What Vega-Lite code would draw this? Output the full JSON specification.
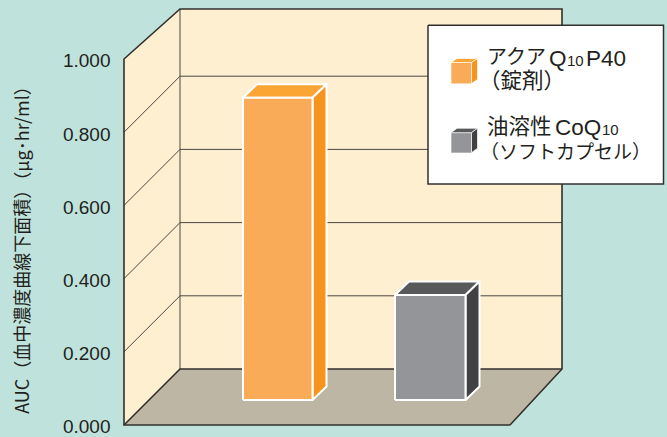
{"$schema":"https://vega.github.io/schema/vega-lite/v6.json","width":667,"height":437,"padding":0,"autosize":"none","background":"#BFE3DC","view":{"stroke":null},
"encoding":{"x":{"field":"x","type":"quantitative","scale":{"domain":[0,667]},"axis":null},"y":{"field":"auc","type":"quantitative","scale":{"domain":[-0.0328,1.1612]},"axis":{"values":[0,0.2,0.4,0.6,0.8,1.0],"format":".3f","grid":false,"domain":false,"ticks":false,"offset":-110,"labelPadding":0,"labelOffset":2,"labelFont":"Liberation Sans","labelFontSize":19,"labelColor":"#231F20","title":"AUC（血中濃度曲線下面積）（μg･hr/ml）","titleFont":"Noto Sans CJK JP","titleFontSize":18,"titleFontWeight":"normal","titleColor":"#231F20","titleX":-78,"titleY":245}}},
"layer":[
{"mark":{"type":"line","strokeWidth":0},"encoding":{"order":{"field":"i"},"fill":{"field":"face","type":"nominal","legend":null,"scale":{"domain":["leftwall","backwall","floor","a-front","a-top","a-side","b-front","b-top","b-side"],"range":["#FEEFD0","#FEEFD0","#BDB6A4","#FAAB57","#FBA634","#F7941E","#939598","#58595B","#414042"]}}},
"data":{"values":[
{"face":"leftwall","i":0,"x":124,"auc":0},{"face":"leftwall","i":1,"x":124,"auc":1},{"face":"leftwall","i":2,"x":180,"auc":1.1366},{"face":"leftwall","i":3,"x":180,"auc":0.153},
{"face":"backwall","i":0,"x":180,"auc":0.153},{"face":"backwall","i":1,"x":180,"auc":1.1366},{"face":"backwall","i":2,"x":562,"auc":1.1366},{"face":"backwall","i":3,"x":562,"auc":0.153},
{"face":"floor","i":0,"x":124,"auc":0},{"face":"floor","i":1,"x":180,"auc":0.153},{"face":"floor","i":2,"x":562,"auc":0.153},{"face":"floor","i":3,"x":510,"auc":0}]}},
{"mark":{"type":"line","stroke":"#4A4642","strokeWidth":1},"encoding":{"order":{"field":"i"},"detail":{"field":"g"}},
"data":{"values":[
{"g":"0.2","i":0,"x":124,"auc":0.2},{"g":"0.2","i":1,"x":180,"auc":0.353},{"g":"0.2","i":2,"x":562,"auc":0.353},
{"g":"0.4","i":0,"x":124,"auc":0.4},{"g":"0.4","i":1,"x":180,"auc":0.553},{"g":"0.4","i":2,"x":562,"auc":0.553},
{"g":"0.6","i":0,"x":124,"auc":0.6},{"g":"0.6","i":1,"x":180,"auc":0.753},{"g":"0.6","i":2,"x":562,"auc":0.753},
{"g":"0.8","i":0,"x":124,"auc":0.8},{"g":"0.8","i":1,"x":180,"auc":0.953},{"g":"0.8","i":2,"x":562,"auc":0.953},
{"g":"back","i":0,"x":180,"auc":0.153},{"g":"back","i":1,"x":180,"auc":1.1366}]}},
{"mark":{"type":"line","stroke":"#332F2C","strokeWidth":1.6},"encoding":{"order":{"field":"i"},"detail":{"field":"g"}},
"data":{"values":[
{"g":"outer","i":0,"x":510,"auc":0},{"g":"outer","i":1,"x":124,"auc":0},{"g":"outer","i":2,"x":124,"auc":1},{"g":"outer","i":3,"x":180,"auc":1.1366},{"g":"outer","i":4,"x":562,"auc":1.1366},{"g":"outer","i":5,"x":562,"auc":0.153},{"g":"outer","i":6,"x":510,"auc":0},
{"g":"floorback","i":0,"x":124,"auc":0},{"g":"floorback","i":1,"x":180,"auc":0.153},{"g":"floorback","i":2,"x":562,"auc":0.153}]}},
{"mark":{"type":"line","strokeWidth":2,"strokeJoin":"round"},"encoding":{"order":{"field":"i"},"stroke":{"value":"#FFFFFF"},"fill":{"field":"face","type":"nominal","legend":null,"scale":{"domain":["leftwall","backwall","floor","a-front","a-top","a-side","b-front","b-top","b-side"],"range":["#FEEFD0","#FEEFD0","#BDB6A4","#FAAB57","#FBA634","#F7941E","#939598","#58595B","#414042"]}}},
"data":{"values":[
{"face":"a-top","i":0,"x":243,"auc":0.8943},{"face":"a-top","i":1,"x":257,"auc":0.9312},{"face":"a-top","i":2,"x":326.5,"auc":0.9312},{"face":"a-top","i":3,"x":312.5,"auc":0.8943},{"face":"a-top","i":4,"x":243,"auc":0.8943},
{"face":"a-side","i":0,"x":312.5,"auc":0.8943},{"face":"a-side","i":1,"x":326.5,"auc":0.9312},{"face":"a-side","i":2,"x":326.5,"auc":0.1052},{"face":"a-side","i":3,"x":312.5,"auc":0.0683},{"face":"a-side","i":4,"x":312.5,"auc":0.8943},
{"face":"a-front","i":0,"x":243,"auc":0.0683},{"face":"a-front","i":1,"x":243,"auc":0.8943},{"face":"a-front","i":2,"x":312.5,"auc":0.8943},{"face":"a-front","i":3,"x":312.5,"auc":0.0683},{"face":"a-front","i":4,"x":243,"auc":0.0683},
{"face":"b-top","i":0,"x":395,"auc":0.3552},{"face":"b-top","i":1,"x":409,"auc":0.3921},{"face":"b-top","i":2,"x":479.5,"auc":0.3921},{"face":"b-top","i":3,"x":465.5,"auc":0.3552},{"face":"b-top","i":4,"x":395,"auc":0.3552},
{"face":"b-side","i":0,"x":465.5,"auc":0.3552},{"face":"b-side","i":1,"x":479.5,"auc":0.3921},{"face":"b-side","i":2,"x":479.5,"auc":0.1052},{"face":"b-side","i":3,"x":465.5,"auc":0.0683},{"face":"b-side","i":4,"x":465.5,"auc":0.3552},
{"face":"b-front","i":0,"x":395,"auc":0.0683},{"face":"b-front","i":1,"x":395,"auc":0.3552},{"face":"b-front","i":2,"x":465.5,"auc":0.3552},{"face":"b-front","i":3,"x":465.5,"auc":0.0683},{"face":"b-front","i":4,"x":395,"auc":0.0683}]}},
{"mark":{"type":"line","stroke":"#332F2C","strokeWidth":1.5,"fill":"#FFFFFF"},"encoding":{"order":{"field":"i"}},
"data":{"values":[{"i":0,"x":428,"auc":1.0921},{"i":1,"x":663.5,"auc":1.0921},{"i":2,"x":663.5,"auc":0.6585},{"i":3,"x":428,"auc":0.6585},{"i":4,"x":428,"auc":1.0921}]}},
{"mark":{"type":"line","strokeWidth":0.7,"strokeJoin":"round"},"encoding":{"order":{"field":"i"},"stroke":{"value":"#FFFFFF"},"fill":{"field":"face","type":"nominal","legend":null,"scale":{"domain":["leftwall","backwall","floor","a-front","a-top","a-side","b-front","b-top","b-side"],"range":["#FEEFD0","#FEEFD0","#BDB6A4","#FAAB57","#FBA634","#F7941E","#939598","#58595B","#414042"]}}},
"data":{"values":[
{"face":"a-top","i":0,"x":451,"auc":0.9904},{"face":"a-top","i":1,"x":457,"auc":1.0013},{"face":"a-top","i":2,"x":477.5,"auc":1.0013},{"face":"a-top","i":3,"x":471.5,"auc":0.9904},
{"face":"a-side","i":0,"x":471.5,"auc":0.9904},{"face":"a-side","i":1,"x":477.5,"auc":1.0013},{"face":"a-side","i":2,"x":477.5,"auc":0.944},{"face":"a-side","i":3,"x":471.5,"auc":0.9331},
{"face":"a-front","i":0,"x":451,"auc":0.9331},{"face":"a-front","i":1,"x":451,"auc":0.9904},{"face":"a-front","i":2,"x":471.5,"auc":0.9904},{"face":"a-front","i":3,"x":471.5,"auc":0.9331},
{"face":"b-top","i":0,"x":451,"auc":0.7986},{"face":"b-top","i":1,"x":457,"auc":0.8108},{"face":"b-top","i":2,"x":477.5,"auc":0.8108},{"face":"b-top","i":3,"x":471.5,"auc":0.7986},
{"face":"b-side","i":0,"x":471.5,"auc":0.7986},{"face":"b-side","i":1,"x":477.5,"auc":0.8108},{"face":"b-side","i":2,"x":477.5,"auc":0.7562},{"face":"b-side","i":3,"x":471.5,"auc":0.744},
{"face":"b-front","i":0,"x":451,"auc":0.744},{"face":"b-front","i":1,"x":451,"auc":0.7986},{"face":"b-front","i":2,"x":471.5,"auc":0.7986},{"face":"b-front","i":3,"x":471.5,"auc":0.744}]}},
{"mark":{"type":"text","align":"left","baseline":"middle","fontSize":20,"font":"Noto Sans CJK JP","color":"#231F20"},"encoding":{"text":{"field":"t"}},
"data":{"values":[{"t":"アクア","x":487,"auc":1.0027}]}},
{"mark":{"type":"text","align":"left","baseline":"middle","fontSize":21.5,"font":"Noto Sans CJK JP","color":"#231F20"},"encoding":{"text":{"field":"t"}},
"data":{"values":[{"t":"（錠剤）","x":479,"auc":0.9372},{"t":"油溶性","x":487,"auc":0.8115}]}},
{"mark":{"type":"text","align":"left","baseline":"middle","fontSize":19,"font":"Noto Sans CJK JP","color":"#231F20"},"encoding":{"text":{"field":"t"}},
"data":{"values":[{"t":"（ソフトカプセル）","x":480,"auc":0.7432}]}},
{"mark":{"type":"text","align":"left","baseline":"alphabetic","fontSize":22.5,"font":"Liberation Sans","color":"#231F20"},"encoding":{"text":{"field":"t"}},
"data":{"values":[{"t":"Q","x":549,"auc":0.9817},{"t":"P40","x":586,"auc":0.9817},{"t":"CoQ","x":555,"auc":0.7923}]}},
{"mark":{"type":"text","align":"left","baseline":"alphabetic","fontSize":15,"font":"Liberation Sans","color":"#231F20"},"encoding":{"text":{"field":"t"}},
"data":{"values":[{"t":"10","x":567,"auc":0.9817},{"t":"10","x":602,"auc":0.7923}]}}
]}
